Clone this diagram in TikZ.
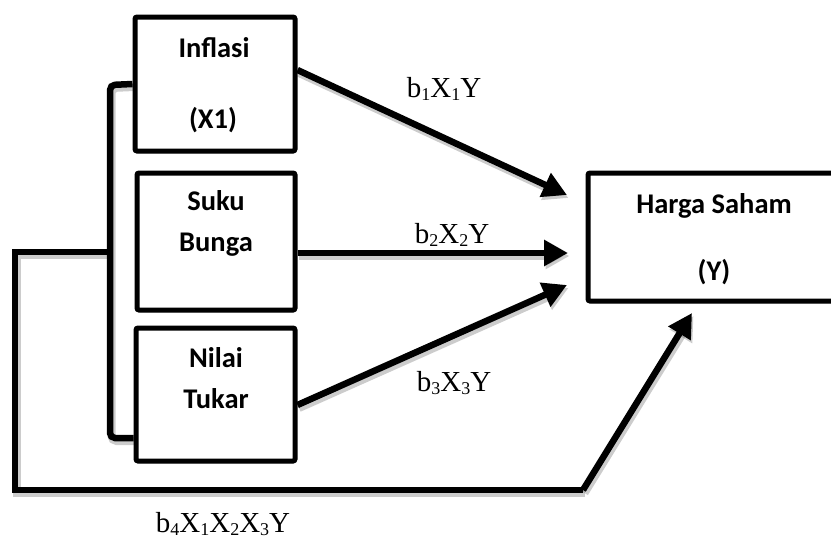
\documentclass[tikz,border=0pt]{standalone}
\usepackage{fontspec}
\setmainfont{Liberation Serif}
\newfontfamily\boxfont{Carlito}
\usetikzlibrary{arrows.meta,shadows}
\pgfdeclarelayer{background}
\pgfsetlayers{background,main}

% lowered index for the path coefficients
\newcommand\idx[1]{\raisebox{-3.5pt}{\fontsize{18}{18}\selectfont #1}}

\begin{document}
\begin{tikzpicture}[x=1pt,y=-1pt,
  stage/.style={draw=black, line width=5pt, fill=white, rounded corners=2pt,
    inner sep=0pt,
    drop shadow={shadow xshift=1.5pt, shadow yshift=-2.5pt, opacity=0.22}},
  boxtext/.style={font=\boxfont\bfseries\fontsize{28.5}{30}\selectfont,
    anchor=base, inner sep=0pt},
  coef/.style={font=\fontsize{29}{30}\selectfont, anchor=base, inner sep=0pt},
  link/.style={line width=6.5pt, line join=miter, draw=black},
  linkshadow/.style={line width=8pt, draw=black, opacity=0.2,
    transform canvas={xshift=1.5pt, yshift=-3pt}},
  tip/.style={-{Triangle[length=24pt,width=25pt]}},
]
\useasboundingbox (0,0) rectangle (831,541);
\clip (0,0) rectangle (831,541);

% variable boxes
\node[stage, minimum width=160pt, minimum height=134pt] (inf)   at (215,84)    {};
\node[stage, minimum width=158pt, minimum height=137pt] (suku)  at (216,241.5) {};
\node[stage, minimum width=159pt, minimum height=133pt] (nilai) at (215.5,394.5) {};
\node[stage, minimum width=252pt, minimum height=128pt] (harga) at (714,237)   {};

% box captions
\node[boxtext] (infA)   at (214,57)  {Inflasi};
\node[boxtext] (infB)   at (213,128) {(X1)};
\node[boxtext] (sukuA)  at (216,210) {Suku};
\node[boxtext] (sukuB)  at (216,251) {Bunga};
\node[boxtext] (nilaiA) at (216,367) {Nilai};
\node[boxtext] (nilaiB) at (216,408) {Tukar};
\node[boxtext] (hargaA) at (714,213) {Harga Saham};
\node[boxtext] (hargaB) at (714,280) {(Y)};

% free ends and bends of the connectors
\coordinate (t1) at (567,195);
\coordinate (t2) at (568,253);
\coordinate (t3) at (567,285);
\coordinate (t4) at (692,313);
\coordinate (bt) at (110,85);
\coordinate (bb) at (110,438);
\coordinate (fb0) at (110,252);
\coordinate (fb1) at (15,252);
\coordinate (fb2) at (15,490);
\coordinate (fb3) at (583,490);

\newcommand\drawlinks[1]{%
  \draw[#1, rounded corners=5pt] (inf.west) -- (bt) -- (bb) -- (bb -| nilai.west);
  \draw[#1] (fb0) -- (fb1) -- (fb2) -- (fb3);
  \draw[#1, tip] (fb3) -- (t4);
  \draw[#1, tip] ([yshift=14pt]inf.east) -- (t1);
  \draw[#1, tip] ([yshift=-11.5pt]suku.east) -- (t2);
  \draw[#1, tip] ([yshift=-10.5pt]nilai.east) -- (t3);
}
\begin{pgfonlayer}{background}
  \drawlinks{linkshadow}
  \drawlinks{link}
\end{pgfonlayer}

% path coefficients
\node[coef] (c1) at (444,97)  {b\idx{1}X\idx{1}Y};
\node[coef] (c2) at (452,243) {b\idx{2}X\idx{2}Y};
\node[coef] (c3) at (454,391) {b\idx{3}X\idx{3}Y};
\node[coef] (c4) at (223,532) {b\idx{4}X\idx{1}X\idx{2}X\idx{3}Y};
\end{tikzpicture}
\end{document}
